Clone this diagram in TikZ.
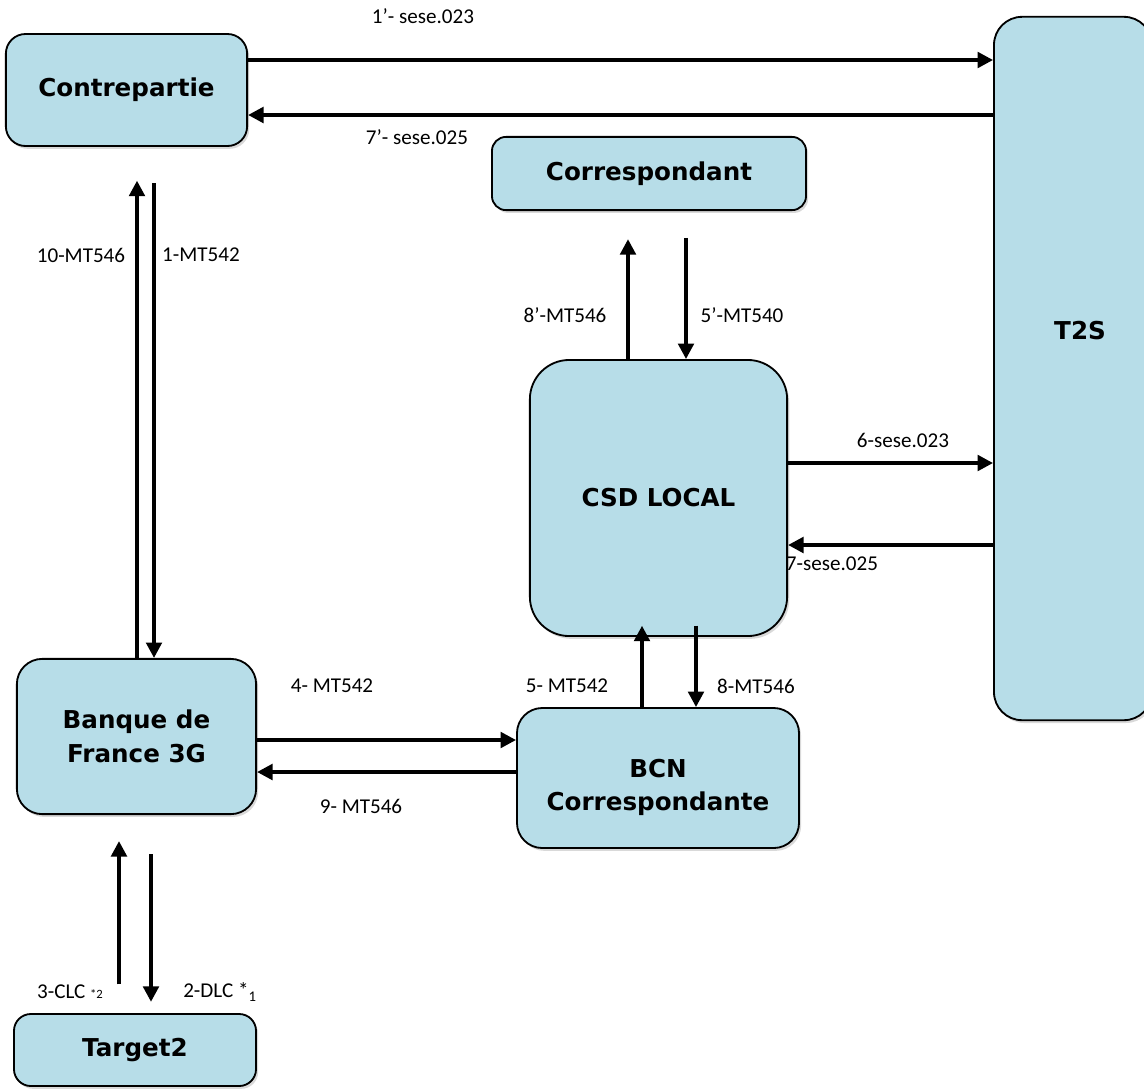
\documentclass[tikz,border=0pt]{standalone}
\usepackage{fontspec}
\setmainfont{Carlito}
\newfontfamily\boxfont{DejaVu Sans}
\usepackage{tikz}
\usetikzlibrary{arrows.meta,shadows}
\definecolor{boxblue}{HTML}{B7DDE8}
\tikzset{thick,
        >={Triangle[length=11pt,width=11pt]},
        box/.style={draw,line width=1.3pt,fill=boxblue,align=center,
                    font=\boxfont\bfseries\fontsize{17.5}{24}\selectfont,
                    drop shadow={shadow xshift=1.5pt,shadow yshift=-2pt,opacity=.3}},
        boxtxt/.style={align=center,font=\boxfont\bfseries\fontsize{17.5}{23.5}\selectfont},
        msg/.style={->,line width=2.6pt},
        lbl/.style={font=\fontsize{15}{18}\selectfont,inner sep=1pt}
        }

\begin{document}
\begin{tikzpicture}[x=0.025cm,y=-0.025cm]
    % 固定画布大小,一个单位对应一个像素
    \useasboundingbox (0,0) rectangle (1144,1088);
    % 各个参与方
    \node[box,minimum width=6.03cm,minimum height=2.8cm,rounded corners=14pt] (cp) at (126.5,90) {Contrepartie};
    \node[box,minimum width=7.85cm,minimum height=1.83cm,rounded corners=10pt] (corr) at (649,173.5) {Correspondant};
    \node[box,minimum width=3.95cm,minimum height=17.58cm,rounded corners=20pt,
          label={[boxtxt,xshift=5pt,yshift=27pt]center:T2S}] (t2s) at (1073,368.5) {};
    \node[box,minimum width=6.43cm,minimum height=6.9cm,rounded corners=28pt] (csd) at (658.5,498) {CSD LOCAL};
    \node[box,minimum width=5.98cm,minimum height=3.88cm,rounded corners=18pt] (bdf) at (136.5,736.5) {Banque de\\France 3G};
    \node[box,minimum width=7.05cm,minimum height=3.5cm,rounded corners=18pt,
          label={[boxtxt,yshift=-7pt]center:BCN\\Correspondante}] (bcn) at (658,778) {};
    \node[box,minimum width=6.05cm,minimum height=1.8cm,rounded corners=12pt] (target) at (135,1050) {Target2};

    % Contrepartie 与 T2S 之间
    \draw[msg] (cp.east |- 0,60) -- (t2s.west |- 0,60);
    \node[lbl] at (423,16) {1’- sese.023};
    \draw[msg] (t2s.west |- 0,115) -- (cp.east |- 0,115);
    \node[lbl] at (417,137) {7’- sese.025};

    % Contrepartie 与 Banque de France 之间
    \draw[msg,shorten >=24pt] (bdf.north -| 137,0) -- (cp.south -| 137,0);
    \node[lbl] at (81,255) {10-MT546};
    \draw[msg,shorten <=26pt] (cp.south -| 154,0) -- (bdf.north -| 154,0);
    \node[lbl] at (201,255) {1-MT542};

    % Correspondant 与 CSD LOCAL 之间
    \draw[msg,shorten >=20pt] (csd.north -| 628,0) -- (corr.south -| 628,0);
    \node[lbl] at (565,315) {8’-MT546};
    \draw[msg,shorten <=19pt] (corr.south -| 686,0) -- (csd.north -| 686,0);
    \node[lbl] at (742,315) {5’-MT540};

    % CSD LOCAL 与 T2S 之间
    \draw[msg] (csd.east |- 0,463) -- (t2s.west |- 0,463);
    \node[lbl] at (903,440) {6-sese.023};
    \draw[msg] (t2s.west |- 0,545) -- (csd.east |- 0,545);
    \node[lbl] at (832,564) {7-sese.025};

    % Banque de France 与 BCN 之间
    \draw[msg] (bdf.east |- 0,740) -- (bcn.west |- 0,740);
    \node[lbl] at (332,686) {4- MT542};
    \draw[msg] (bcn.west |- 0,772) -- (bdf.east |- 0,772);
    \node[lbl] at (361,806) {9- MT546};

    % BCN 与 CSD LOCAL 之间,箭头略伸进方框
    \draw[msg,shorten >=-8pt] (bcn.north -| 642,0) -- (csd.south -| 642,0);
    \node[lbl] at (567,686) {5- MT542};
    \draw[msg,shorten <=-8pt] (csd.south -| 696,0) -- (bcn.north -| 696,0);
    \node[lbl] at (756,686) {8-MT546};

    % Target2 与 Banque de France 之间
    \draw[msg,shorten <=20.5pt,shorten >=18.5pt] (target.north -| 119,0) -- (bdf.south -| 119,0);
    \node[lbl] at (70,992) {3-CLC {\fontsize{9}{9}\selectfont *2}};
    \draw[msg,shorten <=28pt,shorten >=8pt] (bdf.south -| 151,0) -- (target.north -| 151,0);
    \node[lbl] at (220,992) {2-DLC *\textsubscript{1}};
\end{tikzpicture}
\end{document}
